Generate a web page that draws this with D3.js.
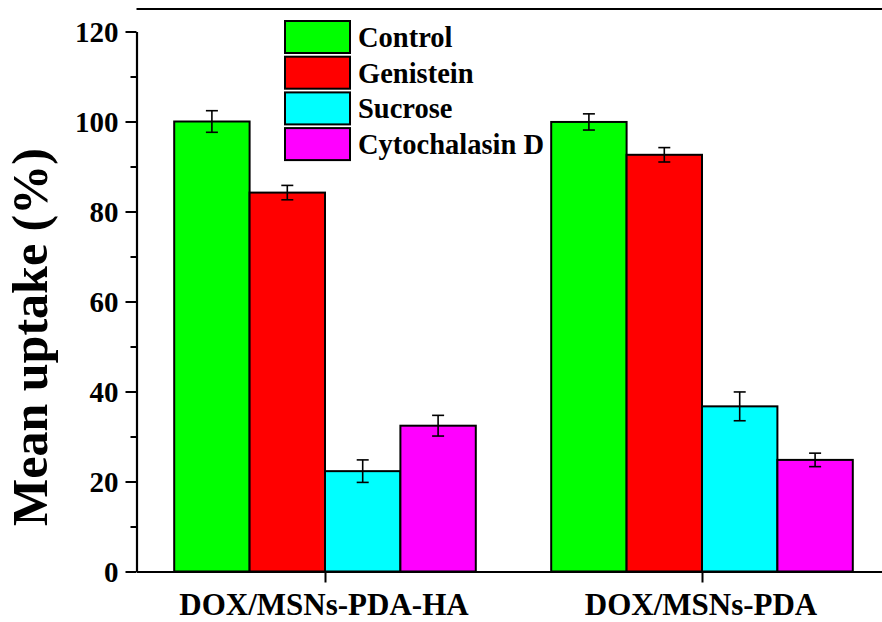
<!DOCTYPE html>
<html>
<head>
<meta charset="utf-8">
<script src="https://cdn.jsdelivr.net/npm/d3@7/dist/d3.min.js"></script>
<style>
  html, body { margin: 0; padding: 0; background: #fff; }
  svg { display: block; }
</style>
</head>
<body>
<svg id="chart" width="882" height="622"></svg>
<script>
// Samples (x-axis groups) and treatments (series)
const groups = ["DOX/MSNs-PDA-HA", "DOX/MSNs-PDA"];
const treatments = ["Control", "Genistein", "Sucrose", "Cytochalasin D"];
const colors = ["#00ff00", "#ff0000", "#00ffff", "#ff00ff"];

// Mean uptake (%) per treatment, one entry per group
const controlMean = [100.0, 99.9];
const genisteinMean = [84.2, 92.6];
const sucroseMean = [22.3, 36.7];
const cytochalasinMean = [32.4, 24.8];

// Error bar half-heights (%)
const controlErr = [2.4, 1.8];
const genisteinErr = [1.6, 1.6];
const sucroseErr = [2.5, 3.2];
const cytochalasinErr = [2.3, 1.5];

const yTicks = [0, 20, 40, 60, 80, 100, 120];

const means = [controlMean, genisteinMean, sucroseMean, cytochalasinMean];
const errs = [controlErr, genisteinErr, sucroseErr, cytochalasinErr];

const FONT = "'Liberation Serif', 'DejaVu Serif', serif";

const svg = d3.select("#chart");

// Group positions are numbered 1..n; the frame spans 0.5..2.5
const x = d3.scaleLinear().domain([0.5, 2.5]).range([136.5, 890.5]);
const y = d3.scaleLinear().domain([0, 120]).range([571.5, 31.5]);
const barW = 0.2;
const pos = gi => gi + 1;

// Top frame line
svg.append("line")
  .attr("x1", x(0.5)).attr("x2", x(2.5))
  .attr("y1", 9).attr("y2", 9)
  .attr("stroke", "#000").attr("stroke-width", 2.2);

// Bars
const rows = [];
groups.forEach((g, gi) => {
  treatments.forEach((t, ti) => {
    rows.push({ gi, ti, v: means[ti][gi], e: errs[ti][gi] });
  });
});

const barLeft = d => x(pos(d.gi) - 2 * barW + d.ti * barW);

svg.append("g").selectAll("rect").data(rows).join("rect")
  .attr("x", barLeft)
  .attr("width", d => x(pos(d.gi) - 2 * barW + (d.ti + 1) * barW) - barLeft(d))
  .attr("y", d => y(d.v))
  .attr("height", d => y(0) - y(d.v))
  .attr("fill", d => colors[d.ti])
  .attr("stroke", "#000").attr("stroke-width", 2);

// Error bars
const eg = svg.append("g").attr("stroke", "#000").attr("stroke-width", 1.6);
const cx = d => x(pos(d.gi) - 2 * barW + (d.ti + 0.5) * barW);
eg.selectAll("line.v").data(rows).join("line").attr("class", "v")
  .attr("x1", cx).attr("x2", cx)
  .attr("y1", d => y(d.v + d.e)).attr("y2", d => y(d.v - d.e));
eg.selectAll("line.t").data(rows).join("line").attr("class", "t")
  .attr("x1", d => cx(d) - 6).attr("x2", d => cx(d) + 6)
  .attr("y1", d => y(d.v + d.e)).attr("y2", d => y(d.v + d.e));
eg.selectAll("line.b").data(rows).join("line").attr("class", "b")
  .attr("x1", d => cx(d) - 6).attr("x2", d => cx(d) + 6)
  .attr("y1", d => y(d.v - d.e)).attr("y2", d => y(d.v - d.e));

// Y axis with major and minor ticks
const yAxis = svg.append("g").attr("transform", `translate(${x(0.5)},0)`)
  .call(d3.axisLeft(y).tickValues(yTicks).tickSize(11).tickPadding(7).tickSizeOuter(0));
svg.append("g").attr("transform", `translate(${x(0.5)},0)`)
  .call(d3.axisLeft(y).tickValues(d3.range(10, 120, 20)).tickSize(6).tickFormat("").tickSizeOuter(0))
  .select(".domain").remove();
yAxis.select(".domain").attr("stroke-width", 2.2);
svg.selectAll(".tick line").attr("stroke-width", 2);
yAxis.attr("font-family", null).attr("font-size", null);
yAxis.selectAll(".tick text")
  .style("font-family", FONT).style("font-weight", "bold").style("font-size", "29px")
  .attr("dy", "0.34em");

// X axis baseline and tick marks at group centres
const xAxis = svg.append("g").attr("transform", `translate(0,${y(0)})`)
  .call(d3.axisBottom(x).tickValues([1, 2]).tickSize(11).tickFormat("").tickSizeOuter(0));
xAxis.select(".domain").attr("stroke-width", 2.2);
xAxis.selectAll(".tick line").attr("stroke-width", 2);
svg.append("g").selectAll("text").data(groups).join("text")
  .attr("x", (d, i) => x(pos(i)) - 1)
  .attr("y", 615)
  .attr("text-anchor", "middle")
  .style("font-family", FONT).style("font-weight", "bold").style("font-size", "31px")
  .text(d => d);

// Y axis title
svg.append("text")
  .attr("transform", "translate(47,337) rotate(-90)")
  .attr("text-anchor", "middle")
  .style("font-family", FONT).style("font-weight", "bold").style("font-size", "50px")
  .text("Mean uptake (%)");

// Legend
const lg = svg.append("g").attr("transform", "translate(285,21)");
const li = lg.selectAll("g").data(treatments).join("g")
  .attr("transform", (d, i) => `translate(0,${i * 35.7})`);
li.append("rect")
  .attr("width", 65).attr("height", 32)
  .attr("fill", (d, i) => colors[i])
  .attr("stroke", "#000").attr("stroke-width", 2);
li.append("text")
  .attr("x", 73).attr("y", 26)
  .style("font-family", FONT).style("font-weight", "bold").style("font-size", "28.5px")
  .text(d => d);
</script>
</body>
</html>
